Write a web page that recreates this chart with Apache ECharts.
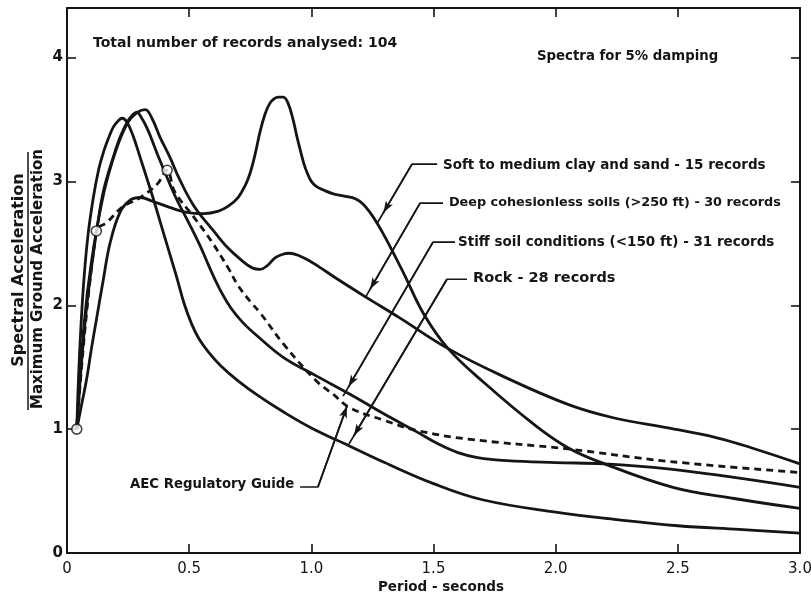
<!DOCTYPE html>
<html>
<head>
<meta charset="utf-8">
<script src="https://cdn.jsdelivr.net/npm/echarts@6/dist/echarts.min.js"></script>
<style>
  html, body { margin: 0; padding: 0; background: #ffffff; }
  #chart { width: 811px; height: 596px; }
</style>
</head>
<body>
<div id="chart"></div>
<script>
// Normalised response spectra (Sa / max ground acceleration) vs period, 5% damping

// Period ticks (s) and spectral ratio ticks
const periodTicks = [0, 0.5, 1.0, 1.5, 2.0, 2.5, 3.0];
const ratioTicks = [0, 1, 2, 3, 4];

// Rock - 28 records
const rockT  = [0.04, 0.05, 0.066, 0.085, 0.107, 0.13, 0.15, 0.17, 0.19, 0.21, 0.225, 0.245, 0.27, 0.30, 0.35, 0.40, 0.45, 0.48, 0.51, 0.54, 0.58, 0.63, 0.70, 0.79, 0.885, 1.00, 1.16, 1.30, 1.50, 1.70, 2.00, 2.25, 2.50, 2.75, 3.00];
const rockSa = [1.00, 1.55, 2.12, 2.55, 2.86, 3.10, 3.24, 3.35, 3.44, 3.49, 3.51, 3.48, 3.37, 3.19, 2.88, 2.55, 2.22, 2.01, 1.85, 1.73, 1.62, 1.51, 1.39, 1.26, 1.14, 1.01, 0.86, 0.73, 0.56, 0.43, 0.33, 0.27, 0.22, 0.19, 0.16];

// Stiff soil conditions (<150 ft) - 31 records
const stiffT  = [0.04, 0.06, 0.08, 0.10, 0.125, 0.15, 0.19, 0.22, 0.25, 0.27, 0.285, 0.30, 0.33, 0.37, 0.41, 0.45, 0.50, 0.545, 0.58, 0.62, 0.67, 0.72, 0.78, 0.885, 1.02, 1.16, 1.30, 1.43, 1.52, 1.60, 1.68, 1.80, 2.00, 2.20, 2.46, 2.73, 3.00];
const stiffSa = [1.00, 1.55, 1.98, 2.30, 2.65, 2.93, 3.20, 3.37, 3.49, 3.54, 3.56, 3.53, 3.42, 3.22, 3.03, 2.85, 2.66, 2.48, 2.32, 2.15, 1.98, 1.86, 1.75, 1.58, 1.43, 1.28, 1.12, 0.98, 0.88, 0.81, 0.77, 0.745, 0.73, 0.72, 0.68, 0.61, 0.53];

// Deep cohesionless soils (>250 ft) - 30 records
const deepT  = [0.04, 0.07, 0.10, 0.15, 0.20, 0.25, 0.29, 0.32, 0.35, 0.38, 0.42, 0.46, 0.52, 0.60, 0.65, 0.71, 0.76, 0.79, 0.82, 0.85, 0.88, 0.91, 0.95, 1.00, 1.04, 1.10, 1.22, 1.36, 1.56, 1.77, 2.05, 2.24, 2.46, 2.66, 2.80, 3.00];
const deepSa = [1.00, 1.85, 2.35, 2.90, 3.25, 3.48, 3.56, 3.58, 3.50, 3.36, 3.20, 3.02, 2.80, 2.60, 2.48, 2.37, 2.30, 2.29, 2.32, 2.38, 2.41, 2.42, 2.40, 2.35, 2.30, 2.22, 2.07, 1.90, 1.65, 1.44, 1.20, 1.09, 1.01, 0.93, 0.85, 0.72];

// Soft to medium clay and sand - 15 records
const softT  = [0.04, 0.06, 0.08, 0.10, 0.12, 0.148, 0.176, 0.217, 0.26, 0.30, 0.35, 0.42, 0.49, 0.56, 0.62, 0.66, 0.70, 0.73, 0.75, 0.77, 0.79, 0.81, 0.83, 0.85, 0.865, 0.885, 0.905, 0.925, 0.94, 0.955, 0.97, 0.985, 1.00, 1.02, 1.05, 1.09, 1.14, 1.18, 1.21, 1.24, 1.27, 1.31, 1.38, 1.46, 1.56, 1.71, 1.91, 2.05, 2.20, 2.48, 2.73, 3.00];
const softSa = [1.00, 1.20, 1.40, 1.65, 1.88, 2.20, 2.50, 2.75, 2.85, 2.87, 2.84, 2.79, 2.75, 2.74, 2.76, 2.80, 2.87, 2.97, 3.07, 3.22, 3.40, 3.54, 3.63, 3.67, 3.68, 3.68, 3.63, 3.50, 3.37, 3.25, 3.14, 3.06, 3.00, 2.96, 2.93, 2.90, 2.88, 2.86, 2.82, 2.75, 2.66, 2.52, 2.25, 1.93, 1.65, 1.37, 1.04, 0.85, 0.72, 0.53, 0.44, 0.36];

// AEC Regulatory Guide design spectrum (dashed) and its control points
const aecT  = [0.04, 0.12, 0.164, 0.225, 0.30, 0.37, 0.41, 0.44, 0.52, 0.59, 0.66, 0.70, 0.75, 0.79, 0.885, 1.02, 1.09, 1.16, 1.30, 1.43, 1.64, 2.05, 2.46, 3.00];
const aecSa = [1.00, 2.60, 2.67, 2.79, 2.87, 2.98, 3.09, 2.92, 2.71, 2.52, 2.30, 2.16, 2.03, 1.94, 1.69, 1.39, 1.28, 1.17, 1.07, 0.99, 0.92, 0.84, 0.74, 0.65];
const aecNodeT  = [0.04, 0.12, 0.41];
const aecNodeSa = [1.00, 2.60, 3.09];

// Curve labels and their leader lines (text end, corner, pointer end) in axis units
const curveLabels = [
  'Soft to medium clay and sand - 15 records',
  'Deep cohesionless soils (>250 ft) - 30 records',
  'Stiff soil conditions (<150 ft) - 31 records',
  'Rock - 28 records',
  'AEC Regulatory Guide'
];
const leaderT  = [[1.515, 1.412, 1.269], [1.539, 1.445, 1.220], [1.588, 1.498, 1.130], [1.637, 1.555, 1.154], [0.954, 1.027, 1.146]];
const leaderSa = [[3.14, 3.14, 2.66], [2.825, 2.825, 2.06], [2.51, 2.51, 1.267], [2.21, 2.21, 0.88], [0.533, 0.533, 1.186]];

const pairs = (xs, ys) => xs.map((x, i) => [x, ys[i]]);

const INK = '#151515';
const FONT = '"DejaVu Sans", "Liberation Sans", sans-serif';

function curve(name, xs, ys, dashed) {
  return {
    name: name,
    type: 'line',
    xAxisIndex: 0, yAxisIndex: 0,
    data: pairs(xs, ys),
    smooth: 0.4,
    symbol: 'none',
    silent: true,
    z: 3,
    lineStyle: { color: INK, width: 2.8, type: dashed ? [7, 5] : 'solid' }
  };
}

// arrowhead placed a little before the pointer end along the leader
const arrowBack = [0.18, 0.09, 0.06, 0.05, 0.0];

function leader(i) {
  const xs = leaderT[i], ys = leaderSa[i];
  const k = arrowBack[i];
  const tip = [xs[2] + (xs[1] - xs[2]) * k, ys[2] + (ys[1] - ys[2]) * k];
  return {
    type: 'line',
    xAxisIndex: 0, yAxisIndex: 0,
    data: pairs(xs, ys),
    symbol: 'none',
    silent: true,
    z: 4,
    lineStyle: { color: INK, width: 1.7 },
    markLine: {
      silent: true,
      symbol: ['none', 'arrow'],
      symbolSize: [6, 12],
      label: { show: false },
      lineStyle: { color: INK, width: 1.7, type: 'solid' },
      data: [[{ coord: [xs[1], ys[1]] }, { coord: tip }]]
    }
  };
}

const axisCommon = {
  type: 'value',
  axisLine: { show: true, onZero: false, lineStyle: { color: INK, width: 2 } },
  axisTick: { show: true, inside: true, length: 9, lineStyle: { color: INK, width: 1.6 } },
  splitLine: { show: false }
};

function label(text, x, y, size, extra) {
  return {
    type: 'text', x: x, y: y,
    style: Object.assign({
      text: text, font: 'bold ' + size + 'px ' + FONT, fill: INK,
      verticalAlign: 'middle', textVerticalAlign: 'middle'
    }, extra || {})
  };
}

const chart = echarts.init(document.getElementById('chart'), null, { renderer: 'canvas' });

chart.setOption({
  backgroundColor: '#ffffff',
  animation: false,
  grid: { left: 67, right: 11, top: 8, bottom: 43, containLabel: false, outerBoundsMode: 'none' },
  xAxis: [
    Object.assign({}, axisCommon, {
      position: 'bottom', min: 0, max: 3, interval: 0.5,
      axisLabel: {
        color: INK, fontSize: 15, fontFamily: FONT, margin: 9,
        formatter: v => (periodTicks.indexOf(v) < 0 ? '' : (v === 0 ? '0' : v.toFixed(1)))
      }
    }),
    Object.assign({}, axisCommon, {
      position: 'top', min: 0, max: 3, interval: 0.5,
      axisLabel: { show: false }
    })
  ],
  yAxis: [
    Object.assign({}, axisCommon, {
      position: 'left', min: 0, max: 4.4, interval: 1,
      axisLabel: {
        color: INK, fontSize: 15, fontWeight: 'bold', fontFamily: FONT, margin: 4,
        showMaxLabel: false,
        formatter: v => (ratioTicks.indexOf(v) < 0 ? '' : String(v))
      }
    }),
    Object.assign({}, axisCommon, {
      position: 'right', min: 0, max: 4.4, interval: 1,
      axisLabel: { show: false }
    })
  ],
  series: [
    curve('Rock', rockT, rockSa, false),
    curve('Stiff soil', stiffT, stiffSa, false),
    curve('Deep cohesionless', deepT, deepSa, false),
    curve('Soft to medium clay', softT, softSa, false),
    curve('AEC Regulatory Guide', aecT, aecSa, true),
    {
      type: 'scatter',
      data: pairs(aecNodeT, aecNodeSa),
      symbol: 'circle',
      symbolSize: 10,
      silent: true,
      z: 6,
      itemStyle: { color: '#ffffff', borderColor: INK, borderWidth: 1.6 }
    },
    leader(0), leader(1), leader(2), leader(3), leader(4)
  ],
  graphic: [
    label('Total number of records analysed: 104', 93, 43, 14),
    label('Spectra for 5% damping', 537, 57, 13.3),
    label(curveLabels[0], 443, 165, 13.5),
    label(curveLabels[1], 449, 203, 12.8),
    label(curveLabels[2], 458, 242, 13.5),
    label(curveLabels[3], 473, 278, 14.5),
    label(curveLabels[4], 130, 485, 13.3),
    label('Period - seconds', 441, 587, 13.5, { align: 'center', textAlign: 'center' }),
    Object.assign(label('Spectral Acceleration', 19, 270, 16, { align: 'center', textAlign: 'center' }), { rotation: Math.PI / 2 }),
    { type: 'line', shape: { x1: 28, y1: 152, x2: 28, y2: 410 }, style: { stroke: INK, lineWidth: 1.5 } },
    Object.assign(label('Maximum Ground Acceleration', 38, 279, 15, { align: 'center', textAlign: 'center' }), { rotation: Math.PI / 2 })
  ]
});
</script>
</body>
</html>
